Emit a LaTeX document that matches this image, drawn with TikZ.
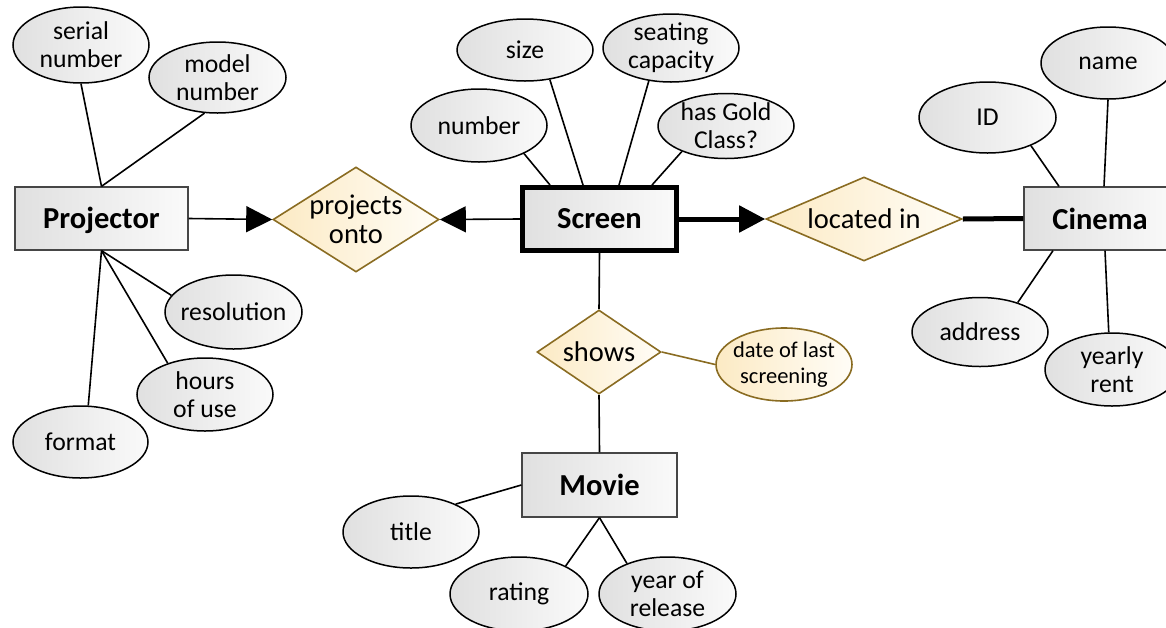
\documentclass[tikz,border=0pt]{standalone}
\usepackage{fontspec}
\setmainfont{Carlito}
\usetikzlibrary{shapes.geometric,arrows.meta}
\definecolor{attrL}{RGB}{224,224,224}
\definecolor{attrR}{RGB}{250,250,250}
\definecolor{relL}{RGB}{252,234,196}
\definecolor{relR}{RGB}{255,253,247}
\definecolor{goldb}{RGB}{138,108,34}
\definecolor{entb}{RGB}{70,70,70}
\begin{document}
\begin{tikzpicture}[x=1pt,y=-1pt,
 attr/.style={ellipse, draw=black, line width=1.5pt, left color=attrL, right color=attrR, inner sep=0pt},
 dattr/.style={ellipse, draw=goldb, line width=1.6pt, left color=relL, right color=relR, inner sep=0pt},
 atext/.style={align=center, font=\fontsize{25.7}{28}\selectfont, inner sep=0pt},
 dtext/.style={align=center, font=\fontsize{22.5}{26}\selectfont, inner sep=0pt},
 ent/.style={rectangle, draw=entb, line width=1.3pt, left color=attrL, right color=attrR, font=\fontsize{30.5}{32}\selectfont\bfseries, inner sep=0pt},
 etext/.style={font=\fontsize{30.5}{32}\selectfont\bfseries, inner sep=0pt},
 rel/.style={diamond, draw=goldb, line width=1.6pt, left color=relL, right color=relR, inner sep=0pt},
 rtext/.style={align=center, font=\fontsize{28.5}{29}\selectfont, inner sep=0pt},
 conn/.style={line width=1.6pt},
 thickconn/.style={line width=5pt},
 arr/.style={-{Triangle[length=26pt,width=26pt]}},
]
\useasboundingbox (0,0) rectangle (1166,627);

% entities
\node[ent, minimum width=173pt, minimum height=63pt] (proj) at (101.5,218.5) {};
\node[etext] (projT) at (101.5,220.5) {Projector};
\node[ent, draw=black, line width=5pt, minimum width=154pt, minimum height=63pt] (screen) at (599.5,219) {Screen};
\node[ent, minimum width=152pt, minimum height=63pt] (cinema) at (1100,218.5) {Cinema};
\node[ent, minimum width=155pt, minimum height=64pt] (movie) at (599.5,485) {Movie};

% relationships
\node[rel, minimum width=166pt, minimum height=105pt] (po) at (356,219.5) {};
\node[rtext] (poT) at (po) {projects\\onto};
\node[rel, minimum width=196pt, minimum height=84pt] (li) at (864,219) {};
\node[rtext] (liT) at (li) {located in};
\node[rel, minimum width=124pt, minimum height=84pt] (sh) at (599,352) {};
\node[rtext] (shT) at (sh) {shows};

% attributes
\node[attr, minimum width=136pt, minimum height=76pt] (sn) at (81,45) {};
\node[atext] (snT) at (sn) {serial\\number};
\node[attr, minimum width=137pt, minimum height=71pt] (mn) at (217.5,77.5) {};
\node[atext] (mnT) at (mn) {model\\number};
\node[attr, minimum width=137pt, minimum height=74pt] (res) at (233.5,312) {};
\node[atext] (resT) at (res) {resolution};
\node[attr, minimum width=136pt, minimum height=73pt] (hours) at (205,394.5) {};
\node[atext] (hoursT) at (hours) {hours\\of use};
\node[attr, minimum width=135pt, minimum height=72pt] (fmt) at (80.5,442) {};
\node[atext] (fmtT) at (fmt) {format};

\node[attr, minimum width=136pt, minimum height=62pt] (size) at (525,50) {};
\node[atext] (sizeT) at (size) {size};
\node[attr, minimum width=136pt, minimum height=68pt] (seat) at (671,48) {};
\node[atext] (seatT) at (seat) {seating\\capacity};
\node[attr, minimum width=136pt, minimum height=73pt] (num) at (479,125.5) {};
\node[atext] (numT) at (num) {number};
\node[attr, minimum width=136pt, minimum height=65pt] (gold) at (726,126) {};
\node[atext] (goldT) at (gold) {has Gold\\Class?};

\node[attr, minimum width=134pt, minimum height=72pt] (name) at (1108,63) {};
\node[atext] (nameT) at (name) {name};
\node[attr, minimum width=137pt, minimum height=71pt] (id) at (987.5,117.5) {};
\node[atext] (idT) at (id) {ID};
\node[attr, minimum width=136pt, minimum height=69pt] (addr) at (980,332) {};
\node[atext] (addrT) at (addr) {address};
\node[attr, minimum width=134pt, minimum height=73pt] (rent) at (1112,369.5) {};
\node[atext] (rentT) at (rent) {yearly\\rent};

\node[dattr, minimum width=136pt, minimum height=73pt] (date) at (784,364.5) {};
\node[dtext] (dateT) at (date) {date of last\\screening};

\node[attr, minimum width=136pt, minimum height=72pt] (title) at (411,532) {};
\node[atext] (titleT) at (title) {title};
\node[attr, minimum width=138pt, minimum height=74pt] (rating) at (519,594) {};
\node[atext] (ratingT) at (rating) {rating};
\node[attr, minimum width=137pt, minimum height=74pt] (year) at (667.5,594) {};
\node[atext] (yearT) at (year) {year of\\release};

% connectors: projector
\draw[conn] (sn.south) -- (proj.north);
\draw[conn] (mn.-110) -- (proj.north);
\draw[conn] (proj.south) -- (res.165);
\draw[conn] (proj.south) -- (hours.140);
\draw[conn] (proj.south) -- (fmt.78);
\draw[conn,arr] (proj.east) -- (po.west);

% screen
\draw[conn,arr] (screen.west) -- (po.east);
\draw[conn] (num.-32) -- ([xshift=-49.5pt]screen.north);
\draw[conn] (size.-50) -- ([xshift=-16.5pt]screen.north);
\draw[conn] (seat.-124) -- ([xshift=19.5pt]screen.north);
\draw[conn] (gold.-150) -- ([xshift=52.5pt]screen.north);
\draw[thickconn,arr] (screen.east) -- (li.west);
\draw[thickconn] (li.east) -- (cinema.west);
\draw[conn] (screen.south) -- (sh.north);
\draw[conn] (sh.south) -- (movie.north);
\draw[conn, draw=goldb] (sh.east) -- (date.west);

% cinema
\draw[conn] (id.-33) -- ([xshift=-41pt]cinema.north);
\draw[conn] (name.south) -- ([xshift=4pt]cinema.north);
\draw[conn] (addr.38) -- ([xshift=-47pt]cinema.south);
\draw[conn] (rent.95) -- ([xshift=5pt]cinema.south);

% movie
\draw[conn] (movie.west) -- (title.32);
\draw[conn] (movie.south) -- (rating.31);
\draw[conn] (movie.south) -- (year.143);
\end{tikzpicture}
\end{document}
